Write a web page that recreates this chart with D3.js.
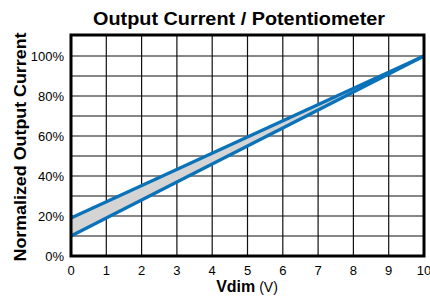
<!DOCTYPE html>
<html>
<head>
<meta charset="utf-8">
<script src="https://cdn.jsdelivr.net/npm/d3@7"></script>
<style>
  body { margin: 0; background: #fff; }
  svg { display: block; font-family: "Liberation Sans", Arial, sans-serif; }
</style>
</head>
<body>
<svg id="chart" width="430" height="297"></svg>
<script>
// data
var vdim = [0, 10];
var upperPct = [19, 100];
var lowerPct = [10, 100];
var xTicks = [0, 1, 2, 3, 4, 5, 6, 7, 8, 9, 10];
var yTicks = [0, 20, 40, 60, 80, 100];
var yGrid = [10, 20, 30, 40, 50, 60, 70, 80, 90, 100];

var svg = d3.select("#chart");
// plot box (note: "top" is reserved on window, so use other names)
var plotL = 71, plotR = 424, plotT = 35, plotB = 256;

var x = d3.scaleLinear().domain([0, 10]).range([plotL, plotR]);
var y = d3.scaleLinear().domain([0, 110.5]).range([plotB, plotT]);

// grid
svg.append("g").selectAll("line")
    .data(xTicks.slice(1, -1))
    .join("line")
    .attr("x1", d => x(d)).attr("x2", d => x(d))
    .attr("y1", plotT).attr("y2", plotB)
    .attr("stroke", "#111").attr("stroke-width", 1.2);
svg.append("g").selectAll("line")
    .data(yGrid)
    .join("line")
    .attr("x1", plotL).attr("x2", plotR)
    .attr("y1", d => y(d)).attr("y2", d => y(d))
    .attr("stroke", "#111").attr("stroke-width", 1.2);

// band between the two lines
var pts = vdim.map((v, i) => ({ v: v, lo: lowerPct[i], hi: upperPct[i] }));
svg.append("path")
    .datum(pts)
    .attr("fill", "#d4d4d4")
    .attr("d", d3.area().x(d => x(d.v)).y0(d => y(d.lo)).y1(d => y(d.hi)));

var line = d3.line().x(d => x(d[0])).y(d => y(d[1]));
[upperPct, lowerPct].forEach(function (s) {
    svg.append("path")
        .datum(vdim.map((v, i) => [v, s[i]]))
        .attr("fill", "none")
        .attr("stroke", "#0a72b9")
        .attr("stroke-width", 3.2)
        .attr("d", line);
});

// frame
svg.append("rect")
    .attr("x", plotL).attr("y", plotT)
    .attr("width", plotR - plotL).attr("height", plotB - plotT)
    .attr("fill", "none").attr("stroke", "#000").attr("stroke-width", 3);

// tick labels
svg.append("g").selectAll("text")
    .data(xTicks)
    .join("text")
    .attr("x", d => x(d)).attr("y", 275)
    .attr("text-anchor", "middle")
    .attr("font-size", 13)
    .text(d => d);
svg.append("g").selectAll("text")
    .data(yTicks)
    .join("text")
    .attr("x", 64).attr("y", d => y(d) + 4.8)
    .attr("text-anchor", "end")
    .attr("font-size", 13)
    .text(d => d + "%");

// titles
svg.append("text")
    .attr("x", 239).attr("y", 25)
    .attr("text-anchor", "middle")
    .attr("font-size", 18).attr("font-weight", "bold")
    .attr("textLength", 292).attr("lengthAdjust", "spacingAndGlyphs")
    .text("Output Current / Potentiometer");

var xl = svg.append("text")
    .attr("x", 247).attr("y", 292)
    .attr("text-anchor", "middle")
    .attr("font-size", 16);
xl.append("tspan").attr("font-weight", "bold").text("Vdim");
xl.append("tspan").attr("font-size", 14).text(" (V)");

svg.append("text")
    .attr("transform", "translate(25.5,147) rotate(-90)")
    .attr("text-anchor", "middle")
    .attr("font-size", 17).attr("font-weight", "bold")
    .attr("textLength", 229).attr("lengthAdjust", "spacingAndGlyphs")
    .text("Normalized Output Current");
</script>
</body>
</html>
